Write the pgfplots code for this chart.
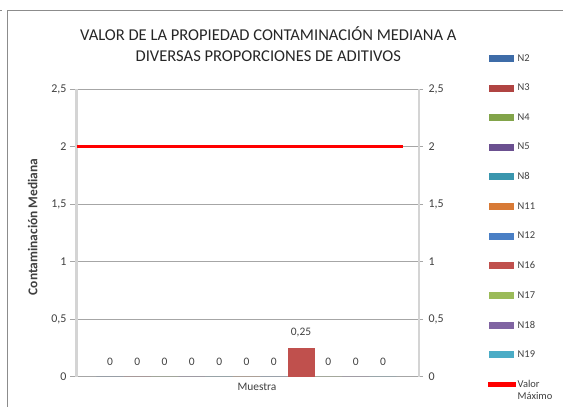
\documentclass[border=0pt]{standalone}
\usepackage{pgfplots}
\pgfplotsset{compat=1.18}
\usepackage{fontspec}
\setmainfont{Carlito}
\definecolor{cN2}{HTML}{3E6CA8}
\definecolor{cN3}{HTML}{B04442}
\definecolor{cN4}{HTML}{82A44A}
\definecolor{cN5}{HTML}{6B5090}
\definecolor{cN8}{HTML}{3A96AE}
\definecolor{cN11}{HTML}{D87A36}
\definecolor{cN12}{HTML}{4A7FC5}
\definecolor{cN16}{HTML}{C0504D}
\definecolor{cN17}{HTML}{9BBB59}
\definecolor{cN18}{HTML}{8064A2}
\definecolor{cN19}{HTML}{4BACC6}
\definecolor{txt}{HTML}{404040}
\definecolor{gridc}{HTML}{A6A6A6}
\definecolor{axc}{HTML}{D4D4D4}
\definecolor{maxred}{HTML}{FF0000}
\pgfkeys{/pgf/number format/.cd, use comma, assume math mode=true}
\pgfplotsset{
  mybar/.style={ybar, bar width=0.99, bar shift=0pt, draw=none, fill=#1,
    nodes near coords,
    legend image code/.code={\fill[fill=#1] (0bp,-3.5bp) rectangle (25bp,3.5bp);}},
  redline/.style={color=maxred, line width=2.5bp, mark=none,
    legend image code/.code={\fill[fill=maxred] (0bp,-1bp) rectangle (25bp,1bp);}},
}
\begin{document}
\begin{tikzpicture}
\useasboundingbox (0,0) rectangle (563bp,407bp);
\draw[gray!90, line width=0.8bp] (7.5bp,0) -- (7.5bp,396.5bp) -- (563bp,396.5bp);
\draw[gray!90, line width=0.8bp] (0,396.5bp) -- (2bp,396.5bp);
\begin{axis}[
  at={(76.5bp,30.5bp)}, anchor=south west,
  scale only axis, width=342.5bp, height=287.5bp,
  xmin=-1.227, xmax=11.32, ymin=0, ymax=2.5,
  axis x line*=bottom, axis y line*=left,
  axis line style={-},
  x axis line style={draw=gridc, line width=0.8bp},
  y axis line style={draw=axc, line width=2bp},
  xtick=\empty,
  ytick={0,0.5,1,1.5,2,2.5}, ytick pos=left,
  ymajorgrids, grid style={draw=gridc, line width=0.8bp},
  tick align=outside, major tick length=6.5bp,
  major tick style={draw=gridc, line width=0.8bp},
  yticklabel style={font=\fontsize{12}{13}\selectfont, text=txt},
  ylabel={\textbf{Contaminación Mediana}},
  ylabel style={at={(axis description cs:-0.128,0.52)}, anchor=center, font=\fontsize{13.5}{14}\selectfont, text=txt},
  xlabel={Muestra},
  xlabel style={at={(axis description cs:0.527,-0.037)}, anchor=center, font=\fontsize{11.5}{12}\selectfont, text=txt},
  title={VALOR DE LA PROPIEDAD CONTAMINACIÓN MEDIANA A\\DIVERSAS PROPORCIONES DE ADITIVOS},
  title style={at={(axis description cs:0.56,1.134)}, anchor=center, align=center, font=\fontsize{16.6}{21}\selectfont, text=black!85},
  every node near coord/.append style={anchor=south, yshift=7bp, font=\fontsize{11.5}{12}\selectfont, text=txt},
  legend style={at={(axis description cs:1.2015,1.128)}, anchor=north west, draw=none, fill=none,
    font=\fontsize{10.5}{12}\selectfont, text=txt, row sep=17.3bp, inner sep=0pt, cells={anchor=west}},
  legend cell align=left,
]
\addplot[mybar=cN2] coordinates {(0,0)}; \addlegendentry{N2}
\addplot[mybar=cN3] coordinates {(1,0)}; \addlegendentry{N3}
\addplot[mybar=cN4] coordinates {(2,0)}; \addlegendentry{N4}
\addplot[mybar=cN5] coordinates {(3,0)}; \addlegendentry{N5}
\addplot[mybar=cN8] coordinates {(4,0)}; \addlegendentry{N8}
\addplot[mybar=cN11] coordinates {(5,0)}; \addlegendentry{N11}
\addplot[mybar=cN12] coordinates {(6,0)}; \addlegendentry{N12}
\addplot[mybar=cN16] coordinates {(7,0.25)}; \addlegendentry{N16}
\addplot[mybar=cN17] coordinates {(8,0)}; \addlegendentry{N17}
\addplot[mybar=cN18] coordinates {(9,0)}; \addlegendentry{N18}
\addplot[mybar=cN19] coordinates {(10,0)}; \addlegendentry{N19}
\addplot[redline] coordinates {(-1.227,2) (10.73,2)};
\addlegendentry{\parbox[t]{40bp}{Valor\\Máximo}}
\end{axis}
\begin{axis}[
  at={(76.5bp,30.5bp)}, anchor=south west,
  scale only axis, width=342.5bp, height=287.5bp,
  xmin=-1.227, xmax=11.32, ymin=0, ymax=2.5,
  axis x line=none, axis y line*=right,
  axis line style={-},
  y axis line style={draw=axc, line width=2bp},
  ytick={0,0.5,1,1.5,2,2.5}, ytick pos=right,
  tick align=outside, major tick length=4bp,
  major tick style={draw=gridc, line width=0.8bp},
  yticklabel style={font=\fontsize{12}{13}\selectfont, text=txt, xshift=2bp},
]
\end{axis}
\end{tikzpicture}
\end{document}
